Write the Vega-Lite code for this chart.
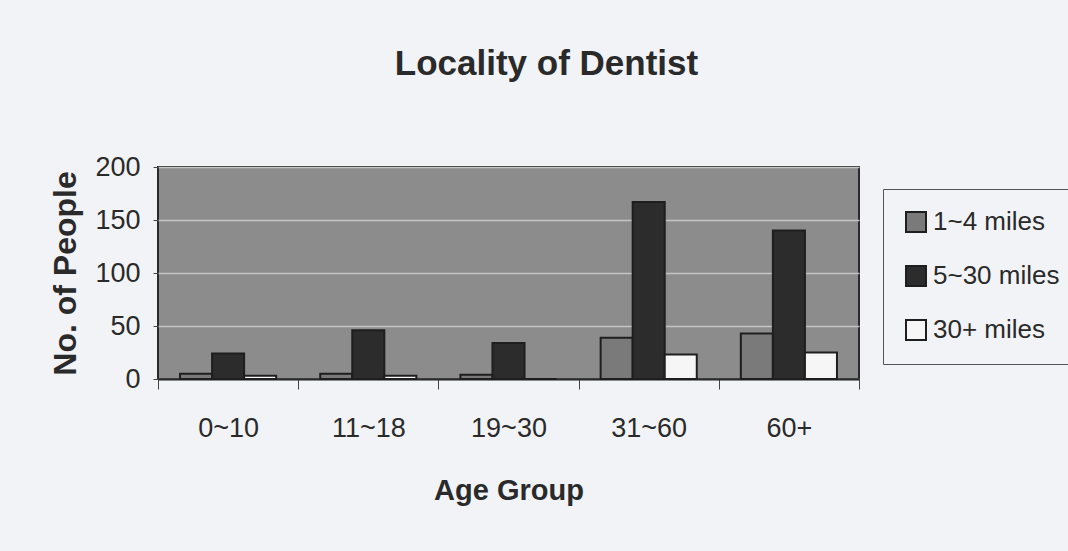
{
  "$schema": "https://vega.github.io/schema/vega-lite/v6.json",
  "autosize": {"type": "none"},
  "width": 701,
  "height": 212,
  "padding": {"left": 158, "top": 167, "right": 209, "bottom": 172},
  "background": "#f2f3f6",
  "title": {
    "text": "Locality of Dentist",
    "font": "Liberation Sans",
    "fontSize": 35,
    "fontWeight": "bold",
    "color": "#2a2a2a",
    "anchor": "middle",
    "frame": "group",
    "baseline": "alphabetic",
    "dx": 38,
    "offset": 43
  },
  "config": {
    "view": {"fill": "#8c8c8c", "stroke": "#2a2a2a", "strokeWidth": 2},
    "font": "Liberation Sans"
  },
  "data": {
    "values": [
      {"age": "0~10", "distance": "1~4 miles", "people": 5},
      {"age": "0~10", "distance": "5~30 miles", "people": 24},
      {"age": "0~10", "distance": "30+ miles", "people": 3},
      {"age": "11~18", "distance": "1~4 miles", "people": 5},
      {"age": "11~18", "distance": "5~30 miles", "people": 46},
      {"age": "11~18", "distance": "30+ miles", "people": 3},
      {"age": "19~30", "distance": "1~4 miles", "people": 4},
      {"age": "19~30", "distance": "5~30 miles", "people": 34},
      {"age": "19~30", "distance": "30+ miles", "people": 0},
      {"age": "31~60", "distance": "1~4 miles", "people": 39},
      {"age": "31~60", "distance": "5~30 miles", "people": 167},
      {"age": "31~60", "distance": "30+ miles", "people": 23},
      {"age": "60+", "distance": "1~4 miles", "people": 43},
      {"age": "60+", "distance": "5~30 miles", "people": 140},
      {"age": "60+", "distance": "30+ miles", "people": 25}
    ]
  },
  "mark": {"type": "bar", "stroke": "#1e1e1e", "strokeWidth": 2},
  "encoding": {
    "x": {
      "field": "age",
      "type": "nominal",
      "sort": ["0~10", "11~18", "19~30", "31~60", "60+"],
      "scale": {"paddingInner": 0, "paddingOuter": 0},
      "axis": {
        "title": "Age Group",
        "titleFontSize": 29,
        "titleFontWeight": "bold",
        "titleColor": "#2a2a2a",
        "titlePadding": 35,
        "labelAngle": 0,
        "labelFontSize": 27,
        "labelColor": "#2a2a2a",
        "labelPadding": 26,
        "tickBand": "extent",
        "tickSize": 10,
        "tickColor": "#444",
        "domainColor": "#2a2a2a",
        "domainWidth": 2
      }
    },
    "xOffset": {
      "field": "distance",
      "type": "nominal",
      "sort": ["1~4 miles", "5~30 miles", "30+ miles"],
      "scale": {"paddingInner": 0, "paddingOuter": 0.6875}
    },
    "y": {
      "field": "people",
      "type": "quantitative",
      "scale": {"domain": [0, 200]},
      "axis": {
        "title": "No. of People",
        "titleFontSize": 32,
        "titleFontWeight": "bold",
        "titleColor": "#2a2a2a",
        "titlePadding": 12,
        "values": [0, 50, 100, 150, 200],
        "labelFontSize": 27,
        "labelColor": "#2a2a2a",
        "labelPadding": 13,
        "tickSize": 5,
        "tickColor": "#444",
        "domain": false,
        "grid": true,
        "gridColor": "#c4c4c4",
        "gridWidth": 1.5
      }
    },
    "fill": {
      "field": "distance",
      "type": "nominal",
      "sort": ["1~4 miles", "5~30 miles", "30+ miles"],
      "scale": {
        "domain": ["1~4 miles", "5~30 miles", "30+ miles"],
        "range": ["#7a7a7a", "#2c2c2c", "#f6f6f6"]
      },
      "legend": {
        "title": null,
        "orient": "none",
        "legendX": 725,
        "legendY": 22,
        "strokeColor": "#555",
        "fillColor": "#f2f3f6",
        "padding": 20,
        "symbolType": "square",
        "symbolSize": 400,
        "symbolStrokeColor": "#1e1e1e",
        "symbolStrokeWidth": 2,
        "labelFontSize": 26,
        "labelColor": "#2a2a2a",
        "labelOffset": 4,
        "rowPadding": 26,
        "labelLimit": 300
      }
    }
  }
}
